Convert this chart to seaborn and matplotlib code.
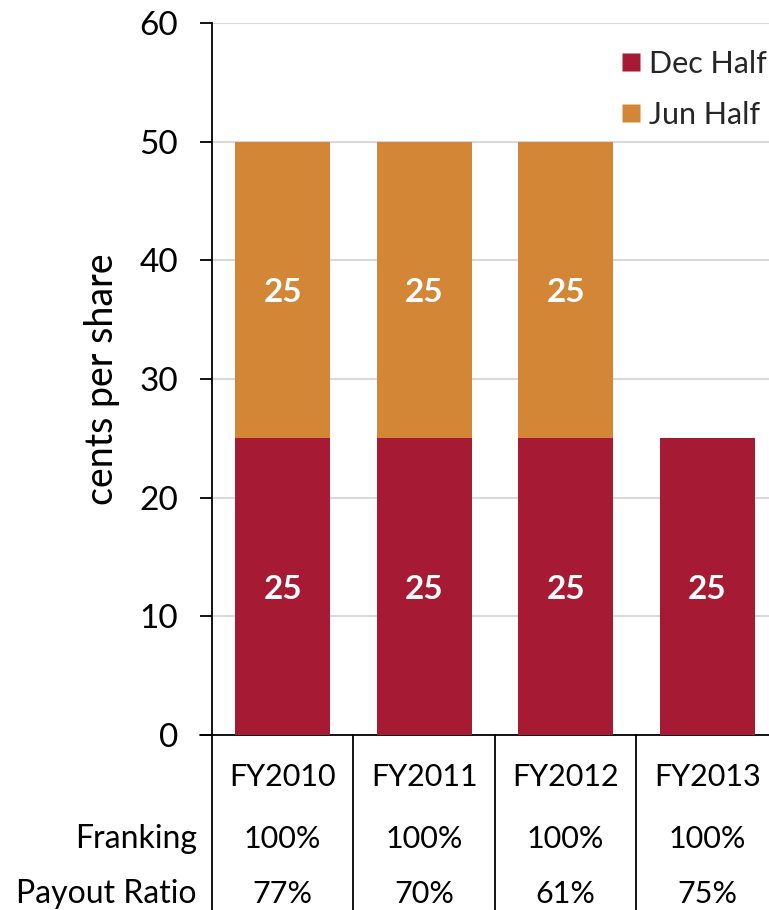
import matplotlib
matplotlib.use("Agg")
import matplotlib.pyplot as plt
import matplotlib.transforms as mtransforms
from matplotlib.lines import Line2D
import seaborn as sns
import pandas as pd

# ---- data ----
categories = ["FY2010", "FY2011", "FY2012", "FY2013"]
dec_half = [25, 25, 25, 25]
jun_half = [25, 25, 25, 0]
franking = ["100%", "100%", "100%", "100%"]
payout_ratio = ["77%", "70%", "61%", "75%"]
row_labels = ["Franking", "Payout Ratio"]
series_names = ["Dec Half", "Jun Half"]

DEC_COLOR = "#A61A33"
JUN_COLOR = "#D38635"

sns.set_theme(style="white")
plt.rcParams["font.family"] = ["Lato", "DejaVu Sans"]

W, H = 769, 910
fig = plt.figure(figsize=(W / 100, H / 100), dpi=100)

def fx(px):
    return px / W

def fy(py):
    return 1 - py / H

ax_left, ax_right, ax_top, ax_bottom = 212, 778, 23, 735
ax = fig.add_axes([fx(ax_left), fy(ax_bottom), fx(ax_right - ax_left), (ax_bottom - ax_top) / H])

df = pd.DataFrame({"cat": categories, "dec": dec_half, "jun": jun_half})
df["total"] = df["dec"] + df["jun"]

sns.barplot(data=df, x="cat", y="total", color=JUN_COLOR, saturation=1, width=0.67, ax=ax, zorder=3)
sns.barplot(data=df, x="cat", y="dec", color=DEC_COLOR, saturation=1, width=0.67, ax=ax, zorder=4)
for p in ax.patches:
    p.set_edgecolor("none")
    p.set_linewidth(0)

ax.set_ylim(0, 60)
ax.set_xlim(-0.5, 3.5)
ax.set_yticks(range(0, 61, 10))
ax.yaxis.grid(True, color="#d9d9d9", linewidth=1.5, zorder=0)
ax.xaxis.grid(False)
ax.set_axisbelow(True)

for s in ["top", "right"]:
    ax.spines[s].set_visible(False)
for s in ["left", "bottom"]:
    ax.spines[s].set_color("black")
    ax.spines[s].set_linewidth(1.3)

ax.tick_params(axis="y", which="major", left=True, length=8.6, width=1.3, color="black",
               pad=16, labelsize=24, labelcolor="black")
ax.tick_params(axis="x", bottom=False, labelbottom=False)
ax.set_xlabel("")
ax.set_ylabel("")

fig.text(fx(102), fy(379), "cents per share", rotation=90, ha="center", va="center",
         fontsize=27, color="black")

# value labels
for i, (d, j) in enumerate(zip(dec_half, jun_half)):
    if d > 0:
        ax.text(i, d / 2, str(d), ha="center", va="center_baseline", color="white",
                fontsize=24, fontweight="bold", zorder=6)
    if j > 0:
        ax.text(i, d + j / 2, str(j), ha="center", va="center_baseline", color="white",
                fontsize=24, fontweight="bold", zorder=6)

# legend
handles = [Line2D([0], [0], marker="s", linestyle="none", markersize=13,
                  markerfacecolor=c, markeredgecolor="none")
           for c in (DEC_COLOR, JUN_COLOR)]
leg = ax.legend(handles, series_names, loc="upper right", frameon=False,
                fontsize=22, handlelength=0.7, handletextpad=0.25, labelspacing=0.75,
                bbox_to_anchor=(fx(767), fy(50)), bbox_transform=fig.transFigure,
                borderaxespad=0, borderpad=0)

# table below axis
trans = mtransforms.blended_transform_factory(ax.transData, fig.transFigure)
fig.add_artist(Line2D([fx(200), fx(212)], [fy(735), fy(735)], color="black", linewidth=1.3))
for k in range(len(categories) + 1):
    ax.add_line(Line2D([k - 0.5, k - 0.5], [fy(735), 0], transform=trans, color="black",
                       linewidth=1.3, clip_on=False))

for i, c in enumerate(categories):
    ax.text(i, fy(777), c, transform=trans, ha="center", va="center", fontsize=22, color="black")
    ax.text(i, fy(839), franking[i], transform=trans, ha="center", va="center", fontsize=22, color="black")
    ax.text(i, fy(894), payout_ratio[i], transform=trans, ha="center", va="center", fontsize=22, color="black")

fig.text(fx(197), fy(839), row_labels[0], ha="right", va="center", fontsize=23, color="black")
fig.text(fx(197), fy(894), row_labels[1], ha="right", va="center", fontsize=23, color="black")

fig.savefig("out.png", dpi=100)
